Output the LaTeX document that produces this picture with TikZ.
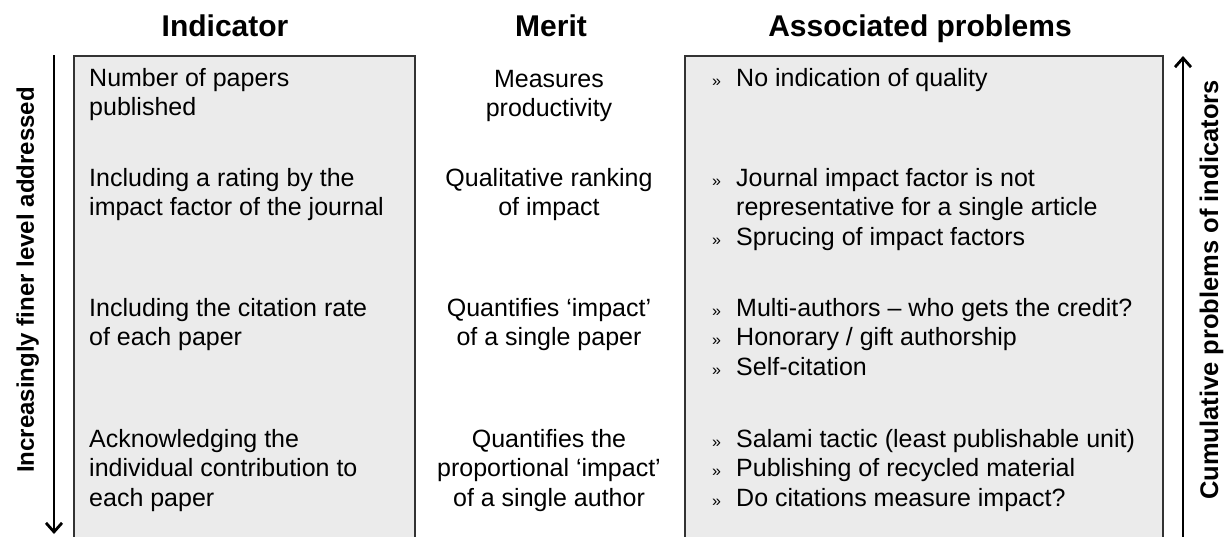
\documentclass[tikz,border=0pt]{standalone}
\usepackage{fontspec}
\setmainfont{Liberation Sans}
\usetikzlibrary{arrows.meta}
\newcommand{\bul}{\makebox[24pt][l]{\fontsize{16}{16}\selectfont »}}
\newcommand{\hang}{\hspace*{24pt}}

\begin{document}
\begin{tikzpicture}
  [x=1pt,y=-1pt,
   every node/.style={inner sep=0pt,font=\fontsize{25}{29.5}\selectfont},
   head/.style={font=\fontsize{30}{36}\selectfont\bfseries,anchor=base},
   side/.style={font=\fontsize{24}{28}\selectfont\bfseries,rotate=90,anchor=base},
   panel/.style={draw=black!80,line width=1.5pt,fill=black!8,anchor=north west},
   txt/.style={align=left,anchor=base west},
   mid/.style={align=center,anchor=base},
   axis/.style={line width=2.8pt,-{Straight Barb[length=9pt,width=16pt,line width=2.8pt]}}]
  \useasboundingbox (0,0) rectangle (1224,536);

  \node[panel,minimum width=341,minimum height=490] (ibox) at (73,55) {};
  \node[panel,minimum width=478,minimum height=490] (pbox) at (684,55) {};

  \node[head] (hind) at (225,36) {Indicator};
  \node[head] (hmer) at (551,36) {Merit};
  \node[head] (hpro) at (920,36) {Associated problems};

  \node[txt] (i1) at (89,115.5) {Number of papers\\published};
  \node[txt] (i2) at (89,215.5) {Including a rating by the\\impact factor of the journal};
  \node[txt] (i3) at (89,345.5) {Including the citation rate\\of each paper};
  \node[txt] (i4) at (89,506)   {Acknowledging the\\individual contribution to\\each paper};

  \node[mid] (m1) at (549,116.5) {Measures\\productivity};
  \node[mid] (m2) at (549,215.5) {Qualitative ranking\\of impact};
  \node[mid] (m3) at (549,345.5) {Quantifies ‘impact’\\of a single paper};
  \node[mid] (m4) at (549,506)   {Quantifies the\\proportional ‘impact’\\of a single author};

  \node[txt] (p1) at (712,86)  {\bul No indication of quality};
  \node[txt] (p2) at (712,245) {\bul Journal impact factor is not\\\hang representative for a single article\\\bul Sprucing of impact factors};
  \node[txt] (p3) at (712,375) {\bul Multi-authors – who gets the credit?\\\bul Honorary / gift authorship\\\bul Self-citation};
  \node[txt] (p4) at (712,506) {\bul Salami tactic (least publishable unit)\\\bul Publishing of recycled material\\\bul Do citations measure impact?};

  \coordinate (lt) at (54,55);
  \coordinate (lb) at (54,534);
  \coordinate (rb) at (1183,545);
  \coordinate (rt) at (1183,56);
  \draw[axis] (lt) -- (lb);
  \draw[axis] (rb) -- (rt);

  \node[side] (sl) at (34,280) {Increasingly finer level addressed};
  \node[side,font=\fontsize{25.5}{30}\selectfont\bfseries] (sr) at (1218,290) {Cumulative problems of indicators};
\end{tikzpicture}
\end{document}
